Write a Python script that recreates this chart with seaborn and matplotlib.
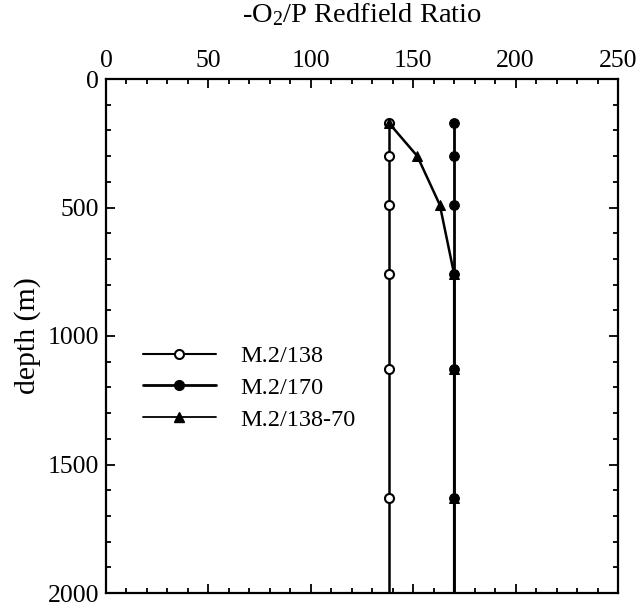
import matplotlib
matplotlib.use("Agg")
import matplotlib.pyplot as plt
import seaborn as sns
import pandas as pd
from matplotlib.lines import Line2D
from matplotlib.ticker import MultipleLocator

# ---- data ----
depth = [170, 300, 490, 760, 1130, 1630, 2000]
ratio_138 = [138, 138, 138, 138, 138, 138, 138]
ratio_170 = [170, 170, 170, 170, 170, 170, 170]
ratio_138_70 = [138, 152, 163, 170, 170, 170, 170]
labels = ["M.2/138", "M.2/170", "M.2/138-70"]
xticks = [0, 50, 100, 150, 200, 250]
yticks = [0, 500, 1000, 1500, 2000]

sns.set_style("ticks")
plt.rcParams["font.family"] = ["Liberation Serif", "DejaVu Serif"]
plt.rcParams["mathtext.default"] = "regular"
plt.rcParams["text.color"] = "black"
plt.rcParams["axes.labelcolor"] = "black"
plt.rcParams["xtick.color"] = "black"
plt.rcParams["ytick.color"] = "black"

fig = plt.figure(figsize=(6.38, 6.09), dpi=100)
ax = fig.add_axes([106 / 638, 1 - 593 / 609, 512 / 638, 514 / 609])

marks = list(range(len(depth) - 1))
df138 = pd.DataFrame({"depth": depth, "ratio": ratio_138})
df170 = pd.DataFrame({"depth": depth, "ratio": ratio_170})
df13870 = pd.DataFrame({"depth": depth, "ratio": ratio_138_70})

sns.lineplot(data=df138, x="ratio", y="depth", sort=False, estimator=None, ax=ax,
             color="black", lw=1.8, marker="o", markersize=6.5, markerfacecolor="white",
             markeredgecolor="black", markeredgewidth=1.5, markevery=marks, zorder=3)
sns.lineplot(data=df170, x="ratio", y="depth", sort=False, estimator=None, ax=ax,
             color="black", lw=2.0, marker="o", markersize=7, markerfacecolor="black",
             markeredgecolor="black", markevery=marks, zorder=3)
sns.lineplot(data=df13870, x="ratio", y="depth", sort=False, estimator=None, ax=ax,
             color="black", lw=1.8, marker="^", markersize=7.5, markerfacecolor="black",
             markeredgecolor="black", markevery=marks, zorder=4)

ax.set_xlim(0, 250)
ax.set_ylim(2000, 0)
ax.set_xticks(xticks)
ax.set_yticks(yticks)
ax.xaxis.set_minor_locator(MultipleLocator(10))
ax.yaxis.set_minor_locator(MultipleLocator(100))
ax.xaxis.tick_top()
ax.xaxis.set_label_position("top")
ax.tick_params(which="both", direction="in", top=True, bottom=True, left=True, right=True,
               width=1.3, colors="black", labelcolor="black", labelsize=18.5)
ax.tick_params(which="major", length=6.5, pad=5)
ax.tick_params(which="minor", length=3.8)
ax.tick_params(axis="x", labelbottom=False, labeltop=True)
for s in ax.spines.values():
    s.set_linewidth(1.6)
    s.set_color("black")

ax.set_xlabel("-O$_2$/P Redfield Ratio", fontsize=20.5, labelpad=20, color="black")
ax.set_ylabel("depth (m)", fontsize=21.5, labelpad=5, color="black")

handles = [
    Line2D([], [], color="black", lw=1.5, marker="o", markersize=6.5, markerfacecolor="white",
           markeredgecolor="black", markeredgewidth=1.5),
    Line2D([], [], color="black", lw=2.0, marker="o", markersize=7, markerfacecolor="black"),
    Line2D([], [], color="black", lw=1.3, marker="^", markersize=7, markerfacecolor="black"),
]
leg = ax.legend(handles, labels, loc="upper left", bbox_to_anchor=(0.072, 0.482), frameon=False,
                fontsize=17.5, handlelength=3.0, handletextpad=1.0, labelspacing=0.4, borderpad=0,
                borderaxespad=0)
for t in leg.get_texts():
    t.set_color("black")

fig.savefig("out.png", dpi=100)
